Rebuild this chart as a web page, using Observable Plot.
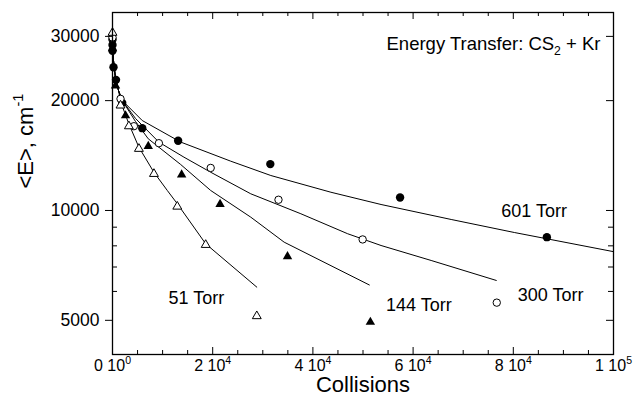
<!DOCTYPE html>
<html>
<head>
<meta charset="utf-8">
<script src="https://cdn.jsdelivr.net/npm/d3@7"></script>
<script src="https://cdn.jsdelivr.net/npm/@observablehq/plot@0.6"></script>
<style>
  html, body { margin: 0; padding: 0; background: #fff; }
  #chart svg { display: block; }
</style>
</head>
<body>
<div id="chart"></div>
<script>
// Collisional relaxation of highly excited CS2 in a Kr bath:
// mean energy <E> (cm^-1) versus number of collisions, at four pressures.

// ---- measured points ----
const coll601 = [0, 0, 0, 200, 700, 1940, 5940, 13100, 31500, 57400, 86700];
const e601    = [29400, 28400, 27400, 24700, 22800, 19720, 16810, 15530, 13400, 10850, 8450];

const coll300 = [0, 1600, 4270, 9260, 19600, 33130, 49930, 76700];
const e300    = [29800, 20230, 17020, 15290, 13080, 10700, 8330, 5590];

const coll144 = [0, 600, 2600, 7140, 13800, 21470, 34930, 51470];
const e144    = [27800, 21980, 18200, 15000, 12530, 10400, 7480, 4945];

const coll51  = [0, 1600, 3270, 5270, 8270, 12930, 18600, 28800];
const e51     = [30700, 19400, 17020, 14760, 12600, 10250, 8050, 5135];

// ---- fitted curves ----
const fitColl601 = [0, 200, 600, 1200, 1940, 5940, 13600, 23600, 31600, 43600, 53600, 67600, 80200, 100000];
const fitE601    = [30170, 25770, 22990, 21320, 20020, 17640, 15400, 13650, 12470, 11220, 10385, 9448, 8703, 7712];

const fitColl300 = [0, 200, 600, 1200, 1940, 4600, 9260, 14260, 19600, 27600, 37600, 46940, 53600, 63600, 76600];
const fitE300    = [30170, 25770, 22990, 21320, 20020, 17870, 15390, 14000, 12730, 11110, 9794, 8635, 8018, 7295, 6431];

const fitColl144 = [0, 200, 600, 1200, 1940, 4600, 7140, 13600, 19600, 27600, 34260, 51260];
const fitE144    = [30170, 25770, 22990, 21320, 20020, 17530, 15720, 13370, 11345, 9587, 8188, 6250];

const fitColl51  = [0, 200, 600, 1200, 1600, 3260, 5260, 8260, 10940, 12940, 18600, 28800];
const fitE51     = [30170, 25770, 22990, 21320, 19890, 17280, 14910, 12730, 11345, 10430, 8104, 6165];

// ---- labels and ticks ----
const seriesNames = ["601 Torr", "300 Torr", "144 Torr", "51 Torr"];
const titleText = "Energy Transfer: CS_{2} + Kr";
const xLabel = "Collisions";
const yLabel = "<E>, cm^{-1}";

const xTicks = [0, 20000, 40000, 60000, 80000, 100000];
const xTickLabels = ["0 10^{0}", "2 10^{4}", "4 10^{4}", "6 10^{4}", "8 10^{4}", "1 10^{5}"];
const xMinorTicks = [5000, 10000, 15000, 25000, 30000, 35000, 45000, 50000, 55000,
                     65000, 70000, 75000, 85000, 90000, 95000];

const yTicks = [5000, 10000, 20000, 30000];
const yTickLabels = ["5000", "10000", "20000", "30000"];
const yMinorTicks = [6000, 7000, 8000, 9000];

const rows = (xs, ys) => xs.map((x, i) => ({x, y: ys[i]}));

const pts601 = rows(coll601, e601), pts300 = rows(coll300, e300);
const pts144 = rows(coll144, e144), pts51 = rows(coll51, e51);
const fits = [rows(fitColl601, fitE601), rows(fitColl300, fitE300),
              rows(fitColl144, fitE144), rows(fitColl51, fitE51)];

// where each pressure label sits (collisions, <E>)
const labelAnchors = [
  {x: 77600, y: 9960},
  {x: 80900, y: 5850},
  {x: 54600, y: 5494},
  {x: 11200, y: 5750}
].map((d, i) => ({...d, name: seriesNames[i]}));

const W = 635, H = 413;
const mL = 112, mR = 22, mT = 12, mB = 59;
const frameW = W - mL - mR, frameH = H - mT - mB;

const chart = Plot.plot({
  width: W,
  height: H,
  marginLeft: mL,
  marginRight: mR,
  marginTop: mT,
  marginBottom: mB,
  style: {
    fontFamily: "'Liberation Sans', Arial, Helvetica, sans-serif",
    background: "#fff",
    color: "#000"
  },
  x: {domain: [0, 100000], axis: null},
  y: {type: "log", domain: [4030, 34880], axis: null},
  marks: [
    // fitted decay curves
    ...fits.map(f => Plot.line(f, {x: "x", y: "y", stroke: "#000", strokeWidth: 1})),

    // data
    Plot.dot(pts601, {x: "x", y: "y", symbol: "circle", r: 4.2, fill: "#000"}),
    Plot.dot(pts300, {x: "x", y: "y", symbol: "circle", r: 3.7, fill: "#fff", stroke: "#000", strokeWidth: 1}),
    Plot.dot(pts144, {x: "x", y: "y", symbol: "triangle", r: 3.5, fill: "#000"}),
    Plot.dot(pts51,  {x: "x", y: "y", symbol: "triangle", r: 3.3, fill: "#fff", stroke: "#000", strokeWidth: 1}),

    // pressure labels
    Plot.text(labelAnchors, {x: "x", y: "y", text: "name", textAnchor: "start", fontSize: 18, fill: "#000"}),

    // frame and inward / outward ticks
    Plot.frame({stroke: "#000", strokeWidth: 1.3}),
    Plot.tickX(xTicks,      {x: d => d, insetTop: frameH - 7, stroke: "#000"}),
    Plot.tickX(xMinorTicks, {x: d => d, insetTop: frameH - 4, stroke: "#000"}),
    Plot.tickX(xTicks,      {x: d => d, insetBottom: frameH - 7, stroke: "#000"}),
    Plot.tickX(xMinorTicks, {x: d => d, insetBottom: frameH - 4, stroke: "#000"}),
    Plot.tickY(yTicks,      {y: d => d, insetLeft: -7, insetRight: frameW, stroke: "#000"}),
    Plot.tickY(yMinorTicks, {y: d => d, insetRight: frameW - 5, stroke: "#000"}),
    Plot.tickY(yTicks,      {y: d => d, insetLeft: frameW - 7, stroke: "#000"}),
    Plot.tickY(yMinorTicks, {y: d => d, insetLeft: frameW - 5, stroke: "#000"}),

    // tick labels
    Plot.text(xTicks, {x: d => d, frameAnchor: "bottom", text: (d, i) => xTickLabels[i],
                       lineAnchor: "top", dy: 5, fontSize: 16, fill: "#000"}),
    Plot.text(yTicks, {y: d => d, frameAnchor: "left", text: (d, i) => yTickLabels[i],
                       textAnchor: "end", dx: -13, fontSize: 17.5, fill: "#000"}),

    // titles
    Plot.text([titleText], {text: d => d, frameAnchor: "top-right", textAnchor: "end",
                            dx: -13, dy: 24, fontSize: 18.5, fill: "#000"}),
    Plot.text([xLabel], {text: d => d, frameAnchor: "bottom", dy: 37, fontSize: 22, fill: "#000"}),
    Plot.text([yLabel], {text: d => d, frameAnchor: "left", rotate: -90, dx: -87, dy: 5,
                         fontSize: 22, fill: "#000"})
  ]
});

document.getElementById("chart").appendChild(chart);

// Render ^{...} as superscripts and _{...} as subscripts.
function richText(el) {
  const s = el.textContent;
  if (!/[\^_]\{/.test(s)) return;
  const fs = parseFloat(getComputedStyle(el).fontSize) || 16;
  const parts = s.split(/([\^_]\{[^}]*\})/).filter(p => p.length);
  while (el.firstChild) el.removeChild(el.firstChild);
  let shift = 0;
  for (const p of parts) {
    const t = document.createElementNS("http://www.w3.org/2000/svg", "tspan");
    let target = 0, str = p;
    if (p[0] === "^" || p[0] === "_") {
      target = p[0] === "^" ? -0.42 * fs : 0.3 * fs;
      t.setAttribute("font-size", (0.66 * fs).toFixed(2));
      str = p.slice(2, -1);
    }
    if (target - shift !== 0) t.setAttribute("dy", (target - shift).toFixed(2));
    shift = target;
    t.textContent = str;
    el.appendChild(t);
  }
}
chart.querySelectorAll("text").forEach(richText);
</script>
</body>
</html>
